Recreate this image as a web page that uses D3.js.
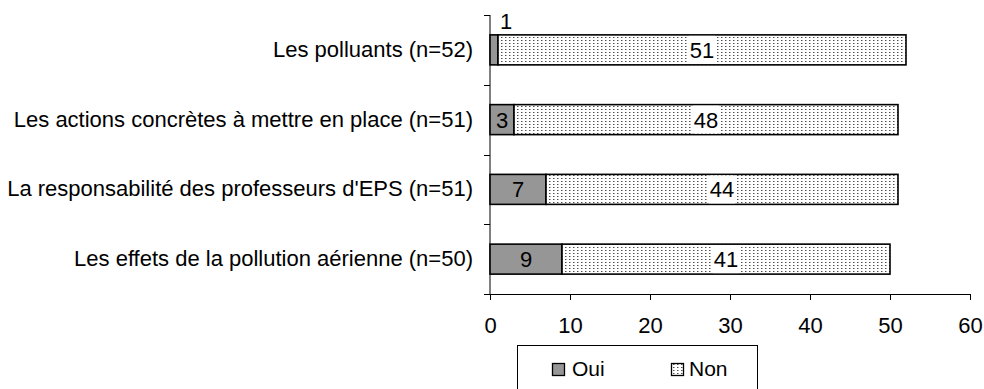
<!DOCTYPE html>
<html>
<head>
<meta charset="utf-8">
<script src="https://cdn.jsdelivr.net/npm/d3@7"></script>
<style>
  html, body { margin: 0; padding: 0; background: #fff; }
  svg { display: block; font-family: "Liberation Sans", Arial, sans-serif; }
</style>
</head>
<body>
<svg id="chart" width="984" height="389"></svg>
<script>
// Themes, top to bottom
const categories = [
  "Les polluants (n=52)",
  "Les actions concrètes à mettre en place (n=51)",
  "La responsabilité des professeurs d'EPS (n=51)",
  "Les effets de la pollution aérienne (n=50)"
];
const oui = [1, 3, 7, 9];
const non = [51, 48, 44, 41];
const seriesNames = ["Oui", "Non"];
const xTicks = [0, 10, 20, 30, 40, 50, 60];

const svg = d3.select("#chart");
const defs = svg.append("defs");

// Dotted fill for the "Non" segments
const pat = defs.append("pattern")
  .attr("id", "dots").attr("patternUnits", "userSpaceOnUse")
  .attr("width", 4).attr("height", 3);
pat.append("rect").attr("width", 4).attr("height", 3).attr("fill", "#fff");
pat.append("rect").attr("x", 1).attr("y", 1).attr("width", 1.5).attr("height", 1).attr("fill", "#505050");

const x = d3.scaleLinear().domain([0, 60]).range([490, 970]);
const y = d3.scaleBand().domain(categories).range([15, 294]).paddingInner(0.57).paddingOuter(0.285);

const fontSize = 22;
const FONT = "Liberation Sans, Arial, sans-serif";

// Axes
const xAxis = svg.append("g").attr("transform", "translate(0,294)")
  .call(d3.axisBottom(x).tickValues(xTicks).tickSize(6).tickPadding(17).tickSizeOuter(0));
xAxis.selectAll("text").attr("font-size", fontSize).attr("fill", "#000").attr("font-family", FONT);
xAxis.selectAll(".domain, line").attr("stroke", "#000");

const yAxis = svg.append("g").attr("transform", "translate(490,0)")
  .call(d3.axisLeft(y).tickSize(0).tickPadding(17));
yAxis.select(".domain").remove();
yAxis.selectAll("text").attr("font-size", fontSize).attr("fill", "#000").attr("font-family", FONT);

// Vertical axis line with ticks at category boundaries
svg.append("line").attr("x1", 490).attr("x2", 490).attr("y1", 15).attr("y2", 294)
  .attr("stroke", "#000");
const bounds = y.domain().map(c => y(c) - y.step() * y.paddingInner() / 2).concat([294]);
svg.selectAll(".ytick").data(bounds).join("line")
  .attr("x1", 484).attr("x2", 490)
  .attr("y1", d => Math.round(d) + 0.5).attr("y2", d => Math.round(d) + 0.5)
  .attr("stroke", "#000");

// Bars
const rows = categories.map((c, i) => ({ c, oui: oui[i], non: non[i] }));
const g = svg.append("g");
g.selectAll(".oui").data(rows).join("rect")
  .attr("x", x(0)).attr("y", d => y(d.c))
  .attr("width", d => x(d.oui) - x(0)).attr("height", y.bandwidth())
  .attr("fill", "#969696").attr("stroke", "#000").attr("stroke-width", 1.6);
g.selectAll(".non").data(rows).join("rect")
  .attr("x", d => x(d.oui)).attr("y", d => y(d.c))
  .attr("width", d => x(d.oui + d.non) - x(d.oui)).attr("height", y.bandwidth())
  .attr("fill", "url(#dots)").attr("stroke", "#000").attr("stroke-width", 1.6);

// Value labels for "Oui"
rows.forEach(d => {
  const narrow = x(d.oui) - x(0) < 16;
  const t = svg.append("text")
    .attr("font-size", fontSize).attr("fill", "#000")
    .text(d.oui);
  if (narrow) {
    t.attr("x", x(d.oui) + 2).attr("y", y(d.c) - 6).attr("text-anchor", "start");
  } else {
    t.attr("x", (x(0) + x(d.oui)) / 2).attr("y", y(d.c) + y.bandwidth() / 2)
      .attr("text-anchor", "middle").attr("dy", "0.36em");
  }
});

// Value labels for "Non" on a white box
rows.forEach(d => {
  const cx = (x(d.oui) + x(d.oui + d.non)) / 2;
  svg.append("rect").attr("x", cx - 13).attr("y", y(d.c) + 1)
    .attr("width", 26).attr("height", y.bandwidth() - 2).attr("fill", "#fff");
  svg.append("text").attr("x", cx).attr("y", y(d.c) + y.bandwidth() / 2)
    .attr("dy", "0.36em").attr("text-anchor", "middle")
    .attr("font-size", fontSize).attr("fill", "#000").text(d.non);
});

// Legend
const lg = svg.append("g");
lg.append("rect").attr("x", 517.5).attr("y", 345.5).attr("width", 240).attr("height", 60)
  .attr("fill", "#fff").attr("stroke", "#000");
const legendItems = [
  { name: seriesNames[0], fill: "#969696", sx: 552, tx: 572 },
  { name: seriesNames[1], fill: "url(#dots)", sx: 671, tx: 689 }
];
legendItems.forEach(it => {
  lg.append("rect").attr("x", it.sx + 0.5).attr("y", 363.5).attr("width", 12).attr("height", 12)
    .attr("fill", it.fill).attr("stroke", "#000").attr("stroke-width", 1.3);
  lg.append("text").attr("x", it.tx).attr("y", 376).attr("font-size", 21).attr("fill", "#000")
    .text(it.name);
});
</script>
</body>
</html>
